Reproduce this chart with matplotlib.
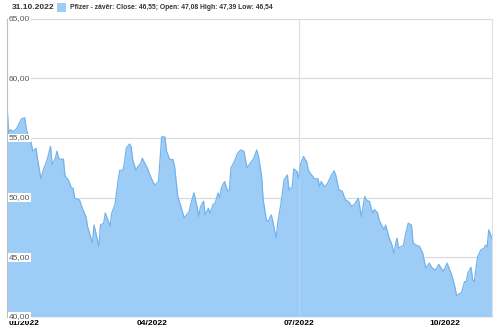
import matplotlib
matplotlib.use("Agg")
import matplotlib.pyplot as plt

plt.rcParams["font.family"] = ["Liberation Sans", "DejaVu Sans"]

# days since 3 Jan 2022 and close price
days = [0, 1, 2, 4, 6, 9, 11, 12, 13, 15, 16, 18, 19, 21, 23, 25, 27, 28, 30, 31,
        32, 34, 35, 36, 38, 40, 41, 42, 45, 47, 49, 50, 53, 54, 57, 58, 60, 61, 63, 64,
        65, 67, 69, 70, 72, 73, 74, 76, 77, 78, 80, 81, 83, 84, 86, 87, 89, 91, 92, 94,
        95, 96, 98, 99, 101, 103, 104, 106, 108, 110, 113, 114, 116, 118, 119, 120, 122, 123, 125, 126,
        128, 129, 131, 132, 133, 135, 137, 138, 139, 141, 143, 145, 147, 149, 151, 153, 155, 156, 158, 159,
        161, 162, 164, 165, 167, 168, 170, 172, 174, 175, 177, 178, 180, 181, 182, 184, 186, 187, 189, 191,
        193, 194, 195, 197, 199, 201, 203, 204, 206, 208, 210, 212, 214, 216, 218, 220, 222, 223, 225, 226,
        227, 228, 230, 231, 234, 235, 237, 239, 240, 242, 243, 246, 247, 249, 251, 252, 254, 256, 258, 260,
        262, 264, 266, 268, 269, 271, 273, 274, 276, 278, 279, 281, 282, 284, 285, 286, 288, 289, 290, 292,
        294, 296, 297, 298, 299, 301]
close = [57.9, 55.4, 55.7, 55.55, 55.8, 56.6, 56.7, 55.7, 55.3, 54.6, 53.9, 54.15, 53.2, 51.6, 52.5, 53.2, 54.3, 52.75, 53.3, 53.9,
         53.3, 53.2, 53.25, 51.8, 51.5, 50.8, 50.8, 49.95, 49.8, 49.0, 48.4, 47.56, 46.2, 47.7, 45.9, 47.7, 47.85, 48.7, 48.0, 47.6,
         48.7, 49.4, 51.5, 52.3, 52.3, 53.0, 54.15, 54.5, 54.3, 53.2, 52.3, 52.55, 52.9, 53.3, 52.75, 52.5, 51.8, 51.2, 51.07, 51.35,
         53.2, 55.1, 55.1, 53.9, 53.2, 53.2, 52.6, 50.1, 49.2, 48.3, 48.8, 49.4, 50.4, 49.2, 48.4, 49.2, 49.7, 48.55, 49.1, 48.7,
         49.45, 49.45, 50.4, 49.95, 50.8, 51.35, 50.5, 50.65, 52.5, 53.0, 53.7, 54.0, 53.9, 52.5, 52.9, 53.25, 54.0, 53.5, 51.8, 49.8,
         48.1, 48.0, 48.55, 48.0, 46.6, 47.85, 49.5, 51.5, 51.9, 50.65, 50.9, 52.4, 52.2, 51.6, 52.75, 53.45, 53.0, 52.3, 51.9, 51.55,
         51.6, 50.9, 51.35, 50.9, 51.2, 51.8, 52.25, 51.9, 50.65, 50.55, 49.8, 49.66, 49.24, 49.5, 49.95, 48.4, 50.1, 49.8, 49.66, 49.1,
         48.7, 49.0, 48.7, 48.1, 47.3, 47.7, 46.7, 46.0, 45.3, 46.6, 45.75, 46.0, 46.7, 47.85, 47.7, 46.2, 46.0, 45.9, 45.33, 44.07,
         44.5, 44.07, 43.9, 44.4, 44.15, 43.8, 44.5, 44.2, 43.5, 42.5, 41.75, 41.97, 42.0, 42.95, 42.95, 43.65, 44.15, 43.1, 42.95, 45.0,
         45.6, 45.75, 46.0, 45.85, 47.3, 46.55]

tick_days = [0, 90, 181, 272]
tick_labels = ["01/2022", "04/2022", "07/2022", "10/2022"]
y_ticks = [40, 45, 50, 55, 60, 65]
y_labels = ["40,00", "45,00", "50,00", "55,00", "60,00", "65,00"]

fig = plt.figure(figsize=(5, 3.32), dpi=100)
ax = fig.add_axes([0.014, 0.046, 0.970, 0.897])

ax.fill_between(days, close, 40, color="#9dcdf6", lw=0)
ax.plot(days, close, color="#74b3ea", lw=0.9)

ax.set_xlim(0, 301)
ax.set_ylim(40, 65)

for v in y_ticks[1:]:
    ax.axhline(v, color="#d9d9d9", lw=0.8, zorder=0.5)
ax.axvline(tick_days[2], color="#d9d9d9", lw=0.8, zorder=0.5)
ax.axvline(tick_days[2], color="#ffffff", lw=0.5, alpha=0.25, zorder=3)

for v, lab in zip(y_ticks, y_labels):
    ax.text(1.2, v, lab, fontsize=6, color="#555555", va="center", ha="left",
            bbox=dict(facecolor="white", edgecolor="none", pad=0.6), zorder=5)

ax.set_xticks([])
ax.set_yticks([])
for i, (d, lab) in enumerate(zip(tick_days, tick_labels)):
    ax.text(d if i else 1.2, 39.4, lab, fontsize=6, fontweight="bold",
            ha="left" if i == 0 else "center", va="center", clip_on=False)

for s in ["top", "bottom"]:
    ax.spines[s].set_visible(False)
ax.spines["left"].set_color("#bdbdbd")
ax.spines["left"].set_linewidth(0.8)
ax.spines["right"].set_color("#e0e0e0")
ax.spines["right"].set_linewidth(0.8)

fig.text(0.024, 0.978, "31.10.2022", fontsize=6, fontweight="bold", color="#333333", va="center")
fig.patches.append(plt.Rectangle((0.114, 0.964), 0.018, 0.027, transform=fig.transFigure,
                                 facecolor="#9dcdf6", edgecolor="none"))
fig.text(0.140, 0.978, "Pfizer - závěr: Close: 46,55; Open: 47,08 High: 47,39 Low: 46,54",
         fontsize=4.9, fontweight="bold", color="#333333", va="center")

fig.savefig("out.png", dpi=100)
